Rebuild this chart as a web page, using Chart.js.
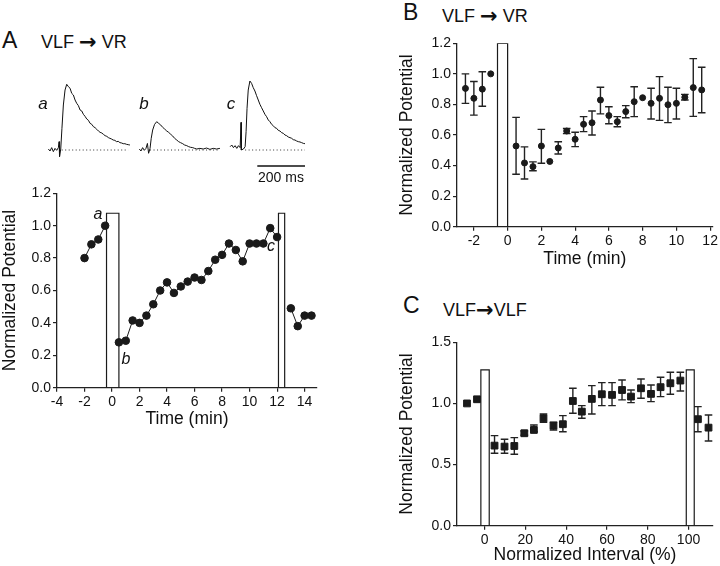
<!DOCTYPE html>
<html>
<head>
<meta charset="utf-8">
<script src="https://cdn.jsdelivr.net/npm/chart.js@4.4.0/dist/chart.umd.min.js"></script>
<style>
  body { margin: 0; background: #fff; }
  #fig { position: relative; width: 720px; height: 566px; overflow: hidden;
         font-family: "Liberation Sans", Arial, sans-serif; color: #111; }
  #fig canvas { position: absolute; }
  .lbl { position: absolute; white-space: nowrap; line-height: 1; }
  .panel { font-size: 23px; }
  .title { font-size: 18px; }
  .arrow { font-family: "DejaVu Sans", sans-serif; font-size: 21px; font-weight: bold; line-height: 0; position: relative; top: 1px; }
  .it { font-style: italic; font-size: 16px; transform: translateX(-50%); }
  .it17 { font-size: 17px; }
  .bar { font-size: 14px; transform: translateX(-50%); }
</style>
</head>
<body>
<div id="fig">
  <canvas id="traceA" width="100" height="115" style="left:40px;top:75px;width:100px;height:115px"></canvas>
  <canvas id="traceB" width="100" height="115" style="left:130px;top:75px;width:100px;height:115px"></canvas>
  <canvas id="traceC" width="100" height="115" style="left:222px;top:75px;width:100px;height:115px"></canvas>
  <canvas id="chartA" width="330" height="250" style="left:0px;top:180px;width:330px;height:250px"></canvas>
  <canvas id="chartB" width="323" height="240" style="left:397px;top:30px;width:323px;height:240px"></canvas>
  <canvas id="chartC" width="323" height="237" style="left:397px;top:329px;width:323px;height:237px"></canvas>

  <div class="lbl panel" style="left:2px;top:29px">A</div>
  <div class="lbl title" style="left:41px;top:33px">VLF <span class="arrow">→</span> VR</div>
  <div class="lbl panel" style="left:403px;top:1px">B</div>
  <div class="lbl title" style="left:442px;top:7px">VLF <span class="arrow">→</span> VR</div>
  <div class="lbl panel" style="left:403px;top:294px">C</div>
  <div class="lbl title" style="left:443px;top:301px">VLF<span class="arrow">→</span>VLF</div>

  <div class="lbl it it17" style="left:43px;top:95px">a</div>
  <div class="lbl it it17" style="left:144px;top:95px">b</div>
  <div class="lbl it it17" style="left:231px;top:95px">c</div>
  <div class="lbl bar" style="left:281px;top:170px">200 ms</div>

  <div class="lbl it" style="left:98px;top:206px">a</div>
  <div class="lbl it" style="left:126px;top:351px">b</div>
  <div class="lbl it" style="left:271px;top:238px">c</div>
</div>

<script>
// ---- traces (time in ms, amplitude normalized to peak of a) ----
const traceATime = [35, 42, 49, 56, 63, 70, 77, 80, 82, 87, 92, 98, 105, 112, 119, 126, 133, 140, 147, 154, 161, 168, 175, 182, 189, 196, 203, 210, 217, 224, 231, 238, 245, 252, 259, 266, 273, 280, 287, 293, 300, 307, 314, 321, 328, 335, 342, 349, 356, 363, 370, 377];
const traceAValue = [0.015, -0.015, 0.036, -0.025, 0.025, -0.005, 0.036, 0.127, -0.10, 0.015, 0.33, 0.685, 0.913, 1.0, 0.964, 0.94, 0.862, 0.837, 0.761, 0.71, 0.675, 0.609, 0.594, 0.543, 0.512, 0.472, 0.452, 0.406, 0.391, 0.355, 0.34, 0.315, 0.289, 0.269, 0.259, 0.238, 0.218, 0.208, 0.188, 0.178, 0.167, 0.152, 0.147, 0.127, 0.132, 0.112, 0.107, 0.096, 0.096, 0.086, 0.081, 0.076];
const traceBTime = [39, 46, 53, 60, 67, 73, 78, 84, 89, 95, 103, 112, 120, 129, 137, 145, 154, 162, 171, 179, 187, 196, 204, 212, 221, 229, 238, 246, 254, 263, 271, 280, 293, 307, 321, 335, 349, 363, 377];
const traceBValue = [0.015, -0.015, 0.036, -0.005, 0.025, 0.10, -0.05, 0.025, 0.178, 0.304, 0.39, 0.431, 0.406, 0.38, 0.345, 0.32, 0.289, 0.269, 0.238, 0.213, 0.178, 0.152, 0.127, 0.112, 0.096, 0.076, 0.066, 0.051, 0.041, 0.036, 0.025, 0.015, 0.025, 0.015, 0.03, 0.01, 0.025, 0.015, 0.025];
const traceCTime = [34, 41, 48, 55, 62, 69, 76, 80, 81, 90, 97, 101, 105, 110, 117, 124, 131, 138, 145, 152, 159, 166, 173, 180, 187, 194, 201, 208, 215, 222, 229, 236, 243, 250, 257, 264, 271, 278, 285, 292, 299, 306, 313, 320, 327, 334, 341, 348];
const traceCValue = [0.05, 0.076, 0.036, 0.066, 0.025, 0.066, 0.036, 0.42, 0.0, 0.015, 0.05, 0.279, 0.634, 0.913, 1.05, 1.015, 0.949, 0.898, 0.827, 0.761, 0.695, 0.644, 0.594, 0.543, 0.507, 0.457, 0.431, 0.391, 0.37, 0.34, 0.33, 0.299, 0.289, 0.264, 0.254, 0.228, 0.218, 0.198, 0.188, 0.178, 0.157, 0.152, 0.137, 0.127, 0.122, 0.112, 0.101, 0.096];
const baselineA = [91, 370];
const baselineB = [84, 377];
const baselineC = [97, 348];
const scaleBarMs = [148, 348];
const scaleBarLevel = -0.2435;

// ---- panel A: single experiment ----
const aPreTime = [-2, -1.5, -1, -0.5];
const aPreValue = [0.80, 0.885, 0.915, 1.0];
const aMidTime = [0.5, 1, 1.5, 2, 2.5, 3, 3.5, 4, 4.5, 5, 5.5, 6, 6.5, 7, 7.5, 8, 8.5, 9, 9.5, 10, 10.5, 11, 11.5, 12];
const aMidValue = [0.28, 0.29, 0.415, 0.40, 0.445, 0.515, 0.60, 0.65, 0.585, 0.625, 0.655, 0.68, 0.665, 0.72, 0.79, 0.82, 0.89, 0.85, 0.78, 0.89, 0.89, 0.89, 0.985, 0.93];
const aPostTime = [13, 13.5, 14, 14.5];
const aPostValue = [0.49, 0.38, 0.445, 0.445];
const aStim = [[-0.4, 0.5, 1.077], [12.1, 12.55, 1.077]];
const aXTicks = [-4, -2, 0, 2, 4, 6, 8, 10, 12, 14];
const aYTicks = [0, 0.2, 0.4, 0.6, 0.8, 1.0, 1.2];

// ---- panel B: mean +/- error ----
const bTime = [-2.5, -2, -1.5, -1, 0.5, 1, 1.5, 2, 2.5, 3, 3.5, 4, 4.5, 5, 5.5, 6, 6.5, 7, 7.5, 8, 8.5, 9, 9.5, 10, 10.5, 11, 11.5];
const bMean = [0.905, 0.84, 0.90, 1.0, 0.528, 0.417, 0.393, 0.528, 0.427, 0.515, 0.626, 0.572, 0.67, 0.68, 0.829, 0.727, 0.687, 0.753, 0.818, 0.844, 0.807, 0.84, 0.798, 0.807, 0.847, 0.91, 0.895];
const bUpper = [1.0, 0.95, 1.014, null, 0.715, 0.522, 0.424, 0.637, null, 0.556, 0.643, 0.618, 0.72, 0.757, 0.912, 0.785, 0.72, 0.792, 0.916, null, 0.906, 0.982, 0.912, 0.906, 0.866, 1.1, 1.043];
const bLower = [0.807, 0.73, 0.788, null, 0.343, 0.312, 0.366, 0.415, null, 0.476, 0.609, 0.524, 0.622, 0.60, 0.738, 0.674, 0.654, 0.713, 0.72, null, 0.705, 0.696, 0.681, 0.705, 0.829, 0.722, 0.746];
const bStim = [[-0.6, 0, 1.2]];
const bXTicks = [-2, 0, 2, 4, 6, 8, 10, 12];
const bYTicks = [0, 0.2, 0.4, 0.6, 0.8, 1.0, 1.2];

// ---- panel C: VLF -> VLF ----
const cInterval = [-8.6, -3.7, 4.9, 9.8, 14.6, 19.5, 24.2, 28.9, 33.8, 38.4, 43.3, 47.7, 52.6, 57.5, 62.5, 67.4, 71.8, 76.7, 81.6, 86.3, 91.1, 96, 104.6, 109.8];
const cMean = [1.0, 1.034, 0.655, 0.647, 0.652, 0.756, 0.783, 0.879, 0.818, 0.83, 1.02, 0.933, 1.037, 1.075, 1.07, 1.11, 1.056, 1.124, 1.078, 1.133, 1.165, 1.187, 0.871, 0.802];
const cUpper = [null, null, 0.737, 0.707, 0.72, 0.775, 0.824, 0.914, 0.846, 0.9, 1.124, 0.982, 1.146, 1.17, 1.17, 1.192, 1.11, 1.2, 1.151, 1.214, 1.255, 1.255, 0.974, 0.906];
const cLower = [null, null, 0.592, 0.592, 0.584, 0.74, 0.768, 0.846, 0.783, 0.769, 0.92, 0.879, 0.914, 0.982, 0.982, 1.029, 1.007, 1.043, 1.015, 1.056, 1.075, 1.102, 0.769, 0.693];
const cStim = [[-1.8, 2.3, 1.274], [98.9, 102.8, 1.274]];
const cXTicks = [0, 20, 40, 60, 80, 100];
const cYTicks = [0, 0.5, 1.0, 1.5];

Chart.defaults.font.family = '"Liberation Sans", Arial, sans-serif';
Chart.defaults.color = '#111';
Chart.defaults.animation = false;

const ink = '#1a1a1a';

function pts(xs, ys) {
    return xs.map((x, i) => ({ x: x, y: ys[i] }));
}

function stimOutline(s) {
    return {
        data: [{ x: s[0], y: 0 }, { x: s[0], y: s[2] }, { x: s[1], y: s[2] }, { x: s[1], y: 0 }],
        showLine: true, borderColor: ink, borderWidth: 1.2, pointRadius: 0, fill: false
    };
}

// error bars drawn under the markers, through the chart scales
const errorBars = {
    id: 'errorBars',
    beforeDatasetsDraw(chart) {
        const ctx = chart.ctx;
        const xs = chart.scales.x, ys = chart.scales.y;
        chart.data.datasets.forEach((ds) => {
            if (!ds.upper) return;
            ctx.save();
            ctx.strokeStyle = '#222';
            ctx.lineWidth = 1.4;
            ds.data.forEach((p, i) => {
                if (ds.upper[i] == null) return;
                const px = xs.getPixelForValue(p.x);
                const top = ys.getPixelForValue(ds.upper[i]);
                const bot = ys.getPixelForValue(ds.lower[i]);
                const cap = ds.cap || 3.5;
                ctx.beginPath();
                ctx.moveTo(px, top); ctx.lineTo(px, bot);
                ctx.moveTo(px - cap, top); ctx.lineTo(px + cap, top);
                ctx.moveTo(px - cap, bot); ctx.lineTo(px + cap, bot);
                ctx.stroke();
            });
            ctx.restore();
        });
    }
};

function axis(min, max, ticks, decimals, title, size, horizontal) {
    return {
        type: 'linear', min: min, max: max,
        afterBuildTicks: (s) => { s.ticks = ticks.map((v) => ({ value: v })); },
        afterFit: (s) => { if (horizontal) s.height = size; else s.width = size; },
        ticks: { color: '#111', font: { size: 14 }, padding: 2, callback: (v) => Number(v).toFixed(decimals) },
        grid: { drawOnChartArea: false, tickLength: 4, color: '#222', lineWidth: 1.2 },
        border: { color: '#222', width: 1.3 },
        title: { display: true, text: title, color: '#111', font: { size: 17.5 }, padding: 0 }
    };
}

function plotChart(id, datasets, xAxis, yAxis, pad) {
    return new Chart(document.getElementById(id), {
        type: 'scatter',
        data: { datasets: datasets },
        options: {
            responsive: false,
            events: [],
            layout: { padding: pad },
            plugins: { legend: { display: false }, tooltip: { enabled: false } },
            scales: { x: xAxis, y: yAxis }
        },
        plugins: [errorBars]
    });
}

function traceChart(id, times, values, baseline, withBar) {
    const datasets = [
        { data: pts(times, values), showLine: true, borderColor: '#111', borderWidth: 1, pointRadius: 0, tension: 0 },
        { data: pts(baseline, [0, 0]), showLine: true, borderColor: '#333', borderWidth: 1, borderDash: [1, 2.5], pointRadius: 0 }
    ];
    if (withBar) {
        datasets.push({ data: pts(scaleBarMs, [scaleBarLevel, scaleBarLevel]), showLine: true, borderColor: '#111', borderWidth: 1.3, pointRadius: 0 });
    }
    const hidden = (min, max) => ({ type: 'linear', min: min, max: max, display: false });
    return new Chart(document.getElementById(id), {
        type: 'scatter',
        data: { datasets: datasets },
        options: {
            responsive: false,
            events: [],
            layout: { padding: 0 },
            plugins: { legend: { display: false }, tooltip: { enabled: false } },
            scales: { x: hidden(0, 419.3), y: hidden(-0.6088, 1.1416) }
        }
    });
}

traceChart('traceA', traceATime, traceAValue, baselineA, false);
traceChart('traceB', traceBTime, traceBValue, baselineB, false);
traceChart('traceC', traceCTime, traceCValue, baselineC, true);

const dotA = { showLine: true, borderColor: ink, borderWidth: 1, pointRadius: 3.8, pointBackgroundColor: ink, pointBorderColor: ink, tension: 0 };
plotChart('chartA', [
    Object.assign({ data: pts(aPreTime, aPreValue) }, dotA),
    Object.assign({ data: pts(aMidTime, aMidValue) }, dotA),
    Object.assign({ data: pts(aPostTime, aPostValue) }, dotA),
    ...aStim.map(stimOutline)
], axis(-4, 14.9, aXTicks, 0, 'Time (min)', 42.3, true),
   axis(0, 1.2, aYTicks, 1, 'Normalized Potential', 57, false),
   { top: 13.3, right: 13, left: 0, bottom: 0 });

plotChart('chartB', [
    { data: pts(bTime, bMean), upper: bUpper, lower: bLower, cap: 3.8, showLine: false, pointRadius: 3, pointBackgroundColor: ink, pointBorderColor: ink },
    ...bStim.map(stimOutline)
], axis(-3, 12.15, bXTicks, 0, 'Time (min)', 43.3, true),
   axis(0, 1.2, bYTicks, 1, 'Normalized Potential', 60, false),
   { top: 13.3, right: 7, left: 0, bottom: 0 });

plotChart('chartC', [
    { data: pts(cInterval, cMean), upper: cUpper, lower: cLower, cap: 3.8, showLine: false, pointStyle: 'rect', pointRadius: 4.8, pointBackgroundColor: ink, pointBorderColor: ink },
    ...cStim.map(stimOutline)
], axis(-13.5, 112, cXTicks, 0, 'Normalized Interval (%)', 40.3, true),
   axis(0, 1.5, cYTicks, 1, 'Normalized Potential', 60, false),
   { top: 13.3, right: 7, left: 0, bottom: 0 });
</script>
</body>
</html>
